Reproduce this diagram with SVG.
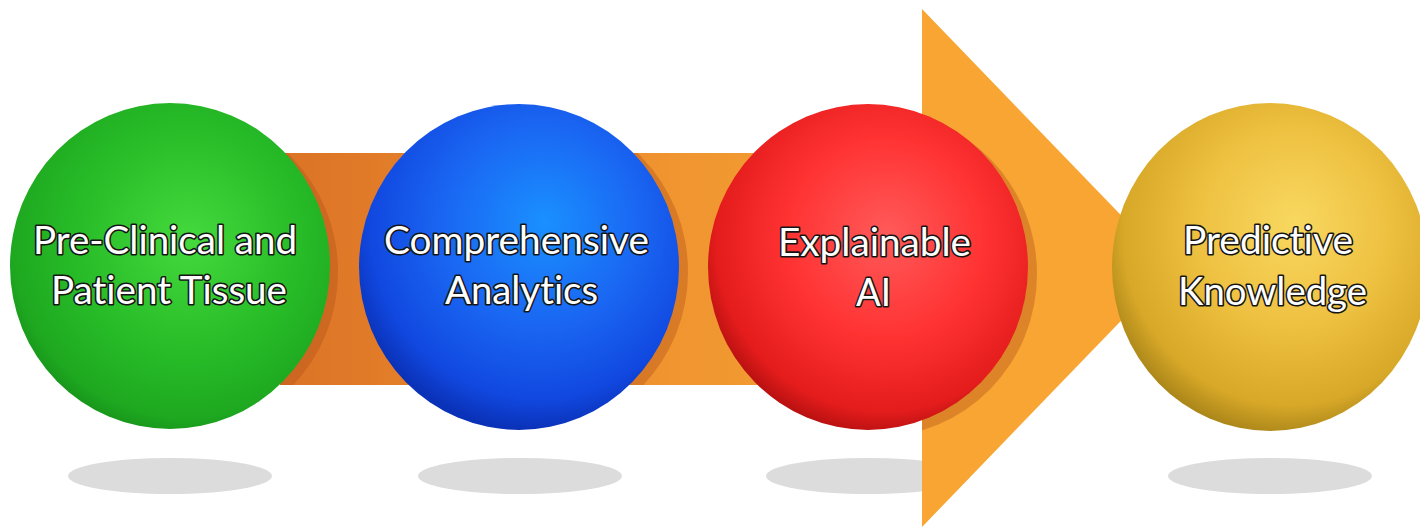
<svg xmlns="http://www.w3.org/2000/svg" width="1420" height="528" viewBox="0 0 1420 528">
  <defs>
    <linearGradient id="arrowGrad" gradientUnits="userSpaceOnUse" x1="280" y1="0" x2="1000" y2="0">
      <stop offset="0" stop-color="#dc7326"/>
      <stop offset="0.55" stop-color="#f09530"/>
      <stop offset="1" stop-color="#f8a534"/>
    </linearGradient>
    <radialGradient id="gGreen" cx="0.55" cy="0.42" r="0.62" fx="0.56" fy="0.42">
      <stop offset="0" stop-color="#44d93c"/>
      <stop offset="0.55" stop-color="#28bd28"/>
      <stop offset="0.88" stop-color="#1ea820"/>
      <stop offset="1" stop-color="#168e18"/>
    </radialGradient>
    <radialGradient id="gBlue" cx="0.56" cy="0.38" r="0.62" fx="0.58" fy="0.36">
      <stop offset="0" stop-color="#1a90ff"/>
      <stop offset="0.5" stop-color="#1a66f2"/>
      <stop offset="0.85" stop-color="#1148e0"/>
      <stop offset="1" stop-color="#0a32b8"/>
    </radialGradient>
    <radialGradient id="gRed" cx="0.55" cy="0.42" r="0.62" fx="0.56" fy="0.4">
      <stop offset="0" stop-color="#ff5a5a"/>
      <stop offset="0.5" stop-color="#ff3232"/>
      <stop offset="0.85" stop-color="#e41c1c"/>
      <stop offset="1" stop-color="#a80c0c"/>
    </radialGradient>
    <radialGradient id="gYellow" cx="0.56" cy="0.4" r="0.62" fx="0.58" fy="0.36">
      <stop offset="0" stop-color="#f8d860"/>
      <stop offset="0.5" stop-color="#eec040"/>
      <stop offset="0.85" stop-color="#d8a828"/>
      <stop offset="1" stop-color="#a88418"/>
    </radialGradient>
    <clipPath id="arrowClip">
      <rect x="280" y="153" width="643" height="232"/>
      <polygon points="922,9 1172,268 922,527"/>
    </clipPath>
  </defs>
  <style>
    .ground { fill: #dcdcdc; }
    .cast { fill: #b4521a; opacity: 0.4; }
    .label { font-family: Lato, "Open Sans", "Liberation Sans", sans-serif; font-size: 39px; font-variant-ligatures: none; font-feature-settings: "liga" 0, "clig" 0; fill: #ffffff; stroke: #151515; stroke-width: 3.2; stroke-linejoin: round; paint-order: stroke; }
  </style>
  <rect x="0" y="0" width="1420" height="528" fill="#ffffff"/>

  <g id="ground-shadows">
    <ellipse class="ground" cx="170" cy="476" rx="102" ry="18"/>
    <ellipse class="ground" cx="520" cy="476" rx="102" ry="18"/>
    <ellipse class="ground" cx="868" cy="476" rx="102" ry="18"/>
    <ellipse class="ground" cx="1270" cy="476" rx="102" ry="18"/>
  </g>

  <g id="connectors">
    <rect x="280" y="153" width="643" height="232" fill="url(#arrowGrad)"/>
    <polygon points="922,9 1172,268 922,527" fill="#f8a534"/>
    <g clip-path="url(#arrowClip)">
      <ellipse class="cast" cx="178" cy="272" rx="160" ry="163"/>
      <ellipse class="cast" cx="528" cy="272" rx="160" ry="163"/>
      <ellipse class="cast" cx="877" cy="274" rx="160" ry="163"/>
    </g>
  </g>

  <g id="node-preclinical">
    <ellipse cx="170" cy="266" rx="160" ry="163" fill="url(#gGreen)"/>
    <text class="label" x="33" y="254" textLength="264" lengthAdjust="spacingAndGlyphs">Pre-Clinical and</text>
    <text class="label" x="51" y="304" textLength="236" lengthAdjust="spacingAndGlyphs">Patient Tissue</text>
  </g>

  <g id="node-analytics">
    <ellipse cx="519" cy="267" rx="160" ry="163" fill="url(#gBlue)"/>
    <text class="label" x="384" y="254" textLength="265" lengthAdjust="spacingAndGlyphs">Comprehensive</text>
    <text class="label" x="445" y="304" textLength="153" lengthAdjust="spacingAndGlyphs">Analytics</text>
  </g>

  <g id="node-xai">
    <ellipse cx="868" cy="267" rx="160" ry="163" fill="url(#gRed)"/>
    <text class="label" x="778" y="256" textLength="193" lengthAdjust="spacingAndGlyphs">Explainable</text>
    <text class="label" x="856" y="306" textLength="35" lengthAdjust="spacingAndGlyphs">AI</text>
  </g>

  <g id="node-predictive">
    <ellipse cx="1270" cy="267" rx="158" ry="164" fill="url(#gYellow)"/>
    <text class="label" x="1183" y="254" textLength="170" lengthAdjust="spacingAndGlyphs">Predictive</text>
    <text class="label" x="1178" y="305" textLength="189" lengthAdjust="spacingAndGlyphs">Knowledge</text>
  </g>
</svg>
